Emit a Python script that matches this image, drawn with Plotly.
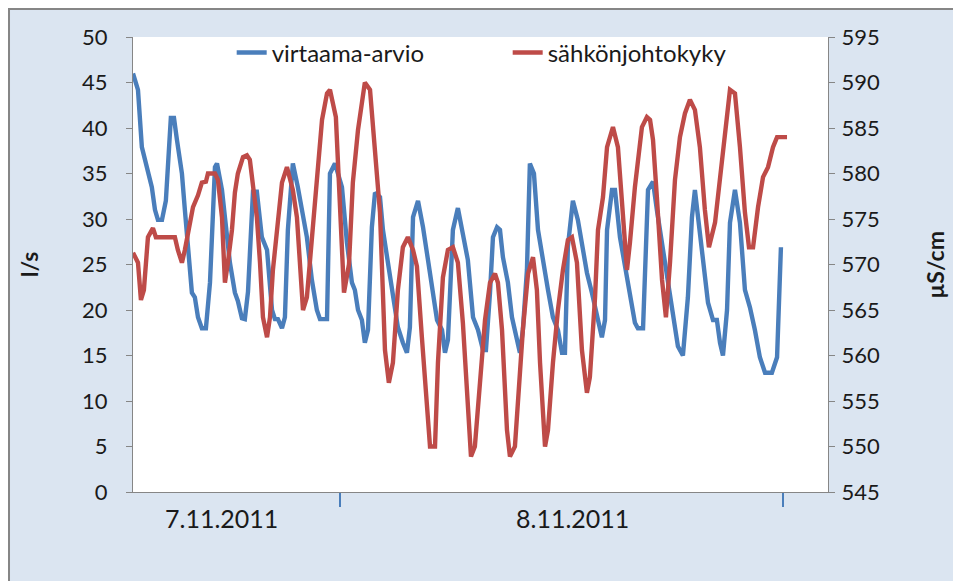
import plotly.graph_objects as go

# ---- data (time in hours since 7.11.2011 00:00) ----
flow_hours = [
    12.79, 13.06, 13.27, 13.54, 13.81, 13.98, 14.14, 14.36, 14.57, 14.84,
    15.01, 15.17, 15.44, 15.60, 15.77, 15.98, 16.14, 16.31, 16.52, 16.74,
    16.96, 17.23, 17.34, 17.61, 17.77, 18.04, 18.31, 18.47, 18.69, 18.85,
    19.02, 19.29, 19.50, 19.77, 20.05, 20.32, 20.48, 20.64, 20.86, 21.02,
    21.18, 21.45, 21.72, 22.00, 22.21, 22.48, 22.75, 22.92, 23.30, 23.46,
    23.73, 24.11, 24.38, 24.65, 24.81, 24.98, 25.19, 25.35, 25.52, 25.73,
    25.90, 26.17, 26.33, 26.60, 26.87, 27.14, 27.41, 27.63, 27.79, 27.96,
    28.23, 28.50, 28.77, 29.04, 29.26, 29.53, 29.69, 29.85, 30.12, 30.39,
    30.66, 30.93, 31.21, 31.48, 31.75, 31.91, 32.13, 32.29, 32.51, 32.67,
    32.83, 33.10, 33.32, 33.59, 33.75, 33.91, 34.13, 34.29, 34.51, 34.73,
    35.00, 35.27, 35.54, 35.81, 36.03, 36.19, 36.35, 36.62, 36.89, 37.17,
    37.38, 37.65, 37.92, 38.19, 38.36, 38.47, 38.74, 38.90, 39.17, 39.55,
    39.82, 39.98, 40.14, 40.42, 40.69, 40.96, 41.17, 41.45, 41.77, 42.04,
    42.31, 42.58, 42.85, 43.07, 43.23, 43.40, 43.67, 43.94, 44.21, 44.42,
    44.59, 44.75, 44.97, 45.13, 45.40, 45.67, 45.94, 46.21, 46.48, 46.75,
    47.03, 47.40, 47.68, 47.89,
]
flow_ls = [
    46, 44.2, 37.9, 35.7, 33.5, 31, 29.9, 29.9, 32, 41.1,
    41.1, 38.7, 35, 31, 27.4, 21.9, 21.4, 19.2, 18, 18,
    23, 35.7, 36.1, 33.2, 30.2, 25.2, 21.9, 21, 19.1, 19,
    22, 33, 33, 28, 26.6, 20, 19, 19, 18, 19.2,
    28.8, 36.1, 33.5, 30.2, 28, 23.3, 20, 19, 19, 35,
    36.1, 33.5, 27.4, 23, 22.2, 20, 18.9, 16.4, 17.8, 29.1,
    32.9, 32.4, 28.8, 25.2, 21.4, 18.1, 16.4, 15.3, 18.1, 30.2,
    32, 29.1, 25.5, 21.4, 18.9, 17.8, 15.3, 16.7, 28.8, 31.2,
    28, 25.5, 19.2, 17.8, 15.6, 15.6, 21.9, 28, 29.1, 28.8,
    25.8, 23, 19.2, 16.7, 15.3, 17.8, 24.4, 36.1, 35, 28.8,
    25.2, 22.2, 19.2, 17.8, 15.3, 15.3, 27, 32, 29.9, 26.6,
    24.1, 21.9, 19.2, 17, 18.9, 28.8, 33.2, 33.2, 28, 23.6,
    20.3, 18.6, 18, 18, 33.2, 34.1, 31, 27.4, 23, 19.7,
    16, 15, 21.4, 30.2, 33.2, 30.2, 25.2, 20.8, 18.9, 18.9,
    16.4, 15, 20, 29.6, 33.2, 29.6, 22.2, 20.3, 17.8, 14.8,
    13.1, 13.1, 14.8, 26.9,
]

cond_hours = [
    12.79, 13.06, 13.22, 13.38, 13.60, 13.87, 14.03, 15.06, 15.22, 15.44,
    15.60, 15.87, 16.04, 16.31, 16.52, 16.74, 16.85, 17.23, 17.39, 17.61,
    17.77, 17.93, 18.15, 18.31, 18.47, 18.75, 18.96, 19.12, 19.29, 19.50,
    19.67, 19.83, 20.05, 20.21, 20.37, 20.64, 20.86, 21.13, 21.29, 21.45,
    21.67, 21.83, 22.00, 22.21, 22.37, 22.54, 22.75, 22.92, 23.03, 23.30,
    23.46, 23.78, 23.95, 24.22, 24.49, 24.70, 24.98, 25.35, 25.63, 25.90,
    26.17, 26.44, 26.65, 26.87, 27.14, 27.41, 27.68, 27.96, 28.17, 28.44,
    28.71, 28.88, 29.15, 29.31, 29.58, 29.85, 30.12, 30.39, 30.66, 30.93,
    31.10, 31.31, 31.59, 31.86, 32.13, 32.40, 32.56, 32.78, 33.05, 33.21,
    33.48, 33.64, 33.91, 34.19, 34.46, 34.67, 34.84, 35.11, 35.27, 35.54,
    35.81, 36.08, 36.35, 36.57, 36.84, 37.11, 37.38, 37.54, 37.82, 37.98,
    38.25, 38.47, 38.79, 39.06, 39.28, 39.55, 39.71, 39.98, 40.36, 40.63,
    40.80, 40.96, 41.17, 41.45, 41.66, 41.88, 42.15, 42.42, 42.69, 42.96,
    43.23, 43.50, 43.77, 43.99, 44.32, 44.59, 44.86, 45.13, 45.40, 45.67,
    45.94, 46.16, 46.38, 46.65, 46.92, 47.19, 47.46, 47.68, 48.22,
]
cond_uscm = [
    571.3, 570.2, 566.1, 567.2, 573, 574, 573, 573, 571.6, 570.2,
    571.6, 574.9, 576.3, 577.6, 579, 579.1, 580, 580, 579.3, 575.2,
    568, 570.2, 573.8, 577.9, 580, 581.8, 582, 581.5, 579, 575.2,
    570.2, 564.2, 562, 564.2, 569.4, 575.2, 579, 580.7, 579.6, 578.2,
    575.2, 570.2, 565, 566.4, 570.2, 575.2, 580.4, 583.3, 585.9, 588.8,
    589.2, 586.2, 579.5, 566.9, 570, 579, 584.8, 590, 589.2, 582.9,
    575.7, 560.6, 557, 559.2, 567.2, 571.9, 573, 571.6, 569.8, 562,
    555.4, 550, 550, 559.2, 568.6, 571.6, 571.9, 570.2, 563.6, 553.7,
    548.9, 550, 557.3, 563.9, 568, 569, 568, 562.8, 551.8, 548.9,
    550, 555.4, 562.8, 569, 570.8, 567.2, 559.2, 550, 551.8, 559.2,
    565, 569.4, 572.7, 573, 570.2, 560.6, 555.9, 557.6, 566.4, 573.8,
    577.4, 582.9, 585.1, 582.9, 577.4, 569.4, 572.4, 578.5, 585.1, 586.2,
    585.9, 583.7, 577.4, 568.3, 564.2, 570.2, 579.3, 584, 586.6, 588.1,
    587, 582.9, 576, 571.9, 574.6, 579.3, 584.8, 589.2, 588.8, 582.9,
    575.7, 571.9, 571.9, 576.3, 579.6, 580.7, 582.9, 584, 584,
]

series_names = ["virtaama-arvio", "sähkönjohtokyky"]
day_boundaries = [24, 48]
day_labels = ["7.11.2011", "8.11.2011"]
day_label_hours = [17.6, 36.6]

BLUE = "#4A7EBB"
RED = "#BE4B48"
AXIS = "#868686"
BG = "#DBE5F1"
FONT = "Lato, 'Open Sans', sans-serif"

fig = go.Figure()
fig.add_trace(go.Scatter(x=flow_hours, y=flow_ls, mode="lines", name=series_names[0],
                         line=dict(color=BLUE, width=4.4), yaxis="y"))
fig.add_trace(go.Scatter(x=cond_hours, y=cond_uscm, mode="lines", name=series_names[1],
                         line=dict(color=RED, width=4.4), yaxis="y2"))

annotations = []
for lab, h in zip(day_labels, day_label_hours):
    annotations.append(dict(x=h, xref="x", y=-0.057, yref="paper", text=lab,
                            showarrow=False, font=dict(family=FONT, size=25, color="#1a1a1a"),
                            xanchor="center", yanchor="middle"))
annotations.append(dict(x=-0.150, xref="paper", y=0.50, yref="paper", text="<b>l/s</b>",
                        textangle=-90, showarrow=False, xanchor="center", yanchor="middle",
                        font=dict(family=FONT, size=23, color="#1a1a1a")))
annotations.append(dict(x=1.153, xref="paper", y=0.50, yref="paper", text="<b>µS/cm</b>",
                        textangle=-90, showarrow=False, xanchor="center", yanchor="middle",
                        font=dict(family=FONT, size=23, color="#1a1a1a")))

fig.update_layout(
    width=953, height=573,
    margin=dict(l=125, r=133, t=29, b=89),
    paper_bgcolor=BG, plot_bgcolor="white",
    font=dict(family=FONT, size=22, color="#1a1a1a"),
    showlegend=True,
    legend=dict(orientation="h", x=0.142, y=0.965, xanchor="left", yanchor="middle",
                bgcolor="rgba(0,0,0,0)", font=dict(family=FONT, size=24, color="#1a1a1a"),
                entrywidth=231, entrywidthmode="pixels"),
    xaxis=dict(range=[12.79, 50.44], showgrid=False, zeroline=False,
               showline=True, linecolor=AXIS, linewidth=1,
               tickmode="array", tickvals=day_boundaries, ticktext=["", ""],
               ticks="outside", ticklen=14, tickwidth=2, tickcolor=BLUE),
    yaxis=dict(range=[0, 50], dtick=5, tick0=0, showgrid=False, zeroline=False,
               showline=True, linecolor=AXIS, linewidth=1,
               ticks="outside", ticklen=6, tickcolor=AXIS, ticklabelstandoff=14),
    yaxis2=dict(range=[545, 595], dtick=5, tick0=545, overlaying="y", side="right",
                showgrid=False, zeroline=False, showline=True, linecolor=AXIS, linewidth=1,
                ticks="outside", ticklen=6, tickcolor=AXIS, ticklabelstandoff=2),
    annotations=annotations,
    shapes=[dict(type="rect", xref="paper", yref="paper",
                 x0=-0.1784, x1=1.25, y0=-0.25, y1=1.0615,
                 line=dict(color=AXIS, width=2), fillcolor="rgba(0,0,0,0)", layer="below")],
)

fig.write_html("out.html")
